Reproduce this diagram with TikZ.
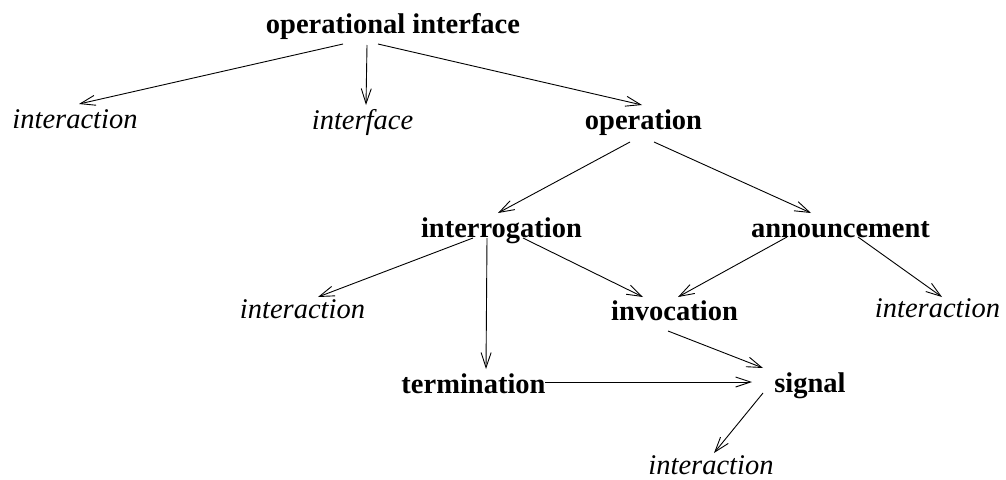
\documentclass[tikz,border=0pt]{standalone}
\usepackage{fontspec}
\setmainfont{Liberation Serif}
\usetikzlibrary{arrows.meta}
\tikzset{
  term/.style={anchor=base, inner sep=0pt, font=\fontsize{28.5}{30}\selectfont\bfseries},
  ref/.style={anchor=base, inner sep=0pt, font=\fontsize{28.5}{30}\selectfont\itshape},
  arr/.style={line width=0.9pt, -{Straight Barb[length=15pt,width=10pt,line width=0.9pt]}}
}
\begin{document}
\begin{tikzpicture}[x=1pt,y=-1pt]
\useasboundingbox (0,0) rectangle (1006,479);
\node[term] (opint) at (393,33) {operational interface};
\node[ref]  (intL)  at (75,128) {interaction};
\node[ref]  (intf)  at (362.5,129) {interface};
\node[term] (oper)  at (643.5,129) {operation};
\node[term] (interr) at (501.5,237) {interrogation};
\node[term] (annc)  at (840.5,237) {announcement};
\node[ref]  (intM)  at (302.5,318) {interaction};
\node[term] (invoc) at (674.5,320) {invocation};
\node[ref]  (intR)  at (937.5,317) {interaction};
\node[term] (term)  at (473.5,393) {termination};
\node[term] (sig)   at (810,392) {signal};
\node[ref]  (intB)  at (711,474) {interaction};

\draw[arr] ([xshift=-50pt,yshift=-11pt]opint.base) -- ([xshift=4pt,yshift=24pt]intL.base);
\draw[arr] ([xshift=-26pt,yshift=-12pt]opint.base) -- ([xshift=3.5pt,yshift=24pt]intf.base);
\draw[arr] ([xshift=-15pt,yshift=-11pt]opint.base) -- ([xshift=-1.5pt,yshift=24pt]oper.base);
\draw[arr] ([xshift=-13.5pt,yshift=-13pt]oper.base) -- ([xshift=-3.5pt,yshift=24pt]interr.base);
\draw[arr] ([xshift=10.5pt,yshift=-13pt]oper.base) -- ([xshift=-29.5pt,yshift=24pt]annc.base);
\draw[arr] ([xshift=-28.5pt,yshift=-1pt]interr.base) -- ([xshift=15.5pt,yshift=21pt]intM.base);
\draw[arr] ([xshift=-14.5pt,yshift=-1pt]interr.base) -- ([xshift=12.5pt,yshift=24pt]term.base);
\draw[arr] ([xshift=21.5pt,yshift=-1pt]interr.base) -- ([xshift=-31.5pt,yshift=23pt]invoc.base);
\draw[arr] ([xshift=-53.5pt,yshift=0pt]annc.base) -- ([xshift=3.5pt,yshift=23pt]invoc.base);
\draw[arr] ([xshift=17.5pt,yshift=0pt]annc.base) -- ([xshift=4.5pt,yshift=20pt]intR.base);
\draw[arr] ([xshift=-6.5pt,yshift=-11pt]invoc.base) -- ([xshift=-47pt,yshift=24pt]sig.base);
\draw[arr] ([xshift=71.5pt,yshift=11pt]term.base) -- ([xshift=-58pt,yshift=10pt]sig.base);
\draw[arr] ([xshift=-47pt,yshift=-1pt]sig.base) -- ([xshift=3pt,yshift=21pt]intB.base);
\end{tikzpicture}
\end{document}
